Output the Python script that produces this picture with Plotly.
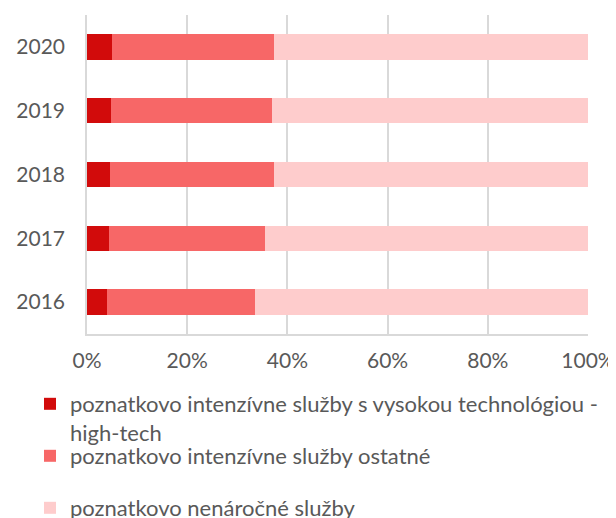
import plotly.graph_objects as go

years = ["2016", "2017", "2018", "2019", "2020"]

# shares in %
high_tech = [4.0, 4.3, 4.6, 4.8, 5.0]
ostatne = [29.6, 31.2, 32.7, 32.2, 32.3]
nenarocne = [66.4, 64.5, 62.7, 63.0, 62.7]

x_ticks = [0, 20, 40, 60, 80, 100]
x_tick_labels = ["0%", "20%", "40%", "60%", "80%", "100%"]

series_names = [
    "poznatkovo intenzívne služby s vysokou technológiou -<br>high-tech",
    "poznatkovo intenzívne služby ostatné",
    "poznatkovo nenáročné služby",
]
series_colors = ["#D20B0B", "#F76767", "#FECCCC"]

font_family = "Lato"
text_color = "#595959"
grid_color = "#D9D9D9"

# the page body has an 8px margin, so the figure is 8px smaller than the window
W, H = 608, 510

# one legend per series so the entries sit like in the original (Excel) layout
legend_ids = ["legend", "legend2", "legend3"]
legend_tops = [375, 427, 479]  # px from top of figure

fig = go.Figure()
for name, vals, col, lg in zip(series_names, [high_tech, ostatne, nenarocne], series_colors, legend_ids):
    fig.add_trace(go.Bar(
        y=years,
        x=vals,
        name=name,
        orientation="h",
        marker=dict(color=col, line=dict(width=0)),
        legend=lg,
    ))

legend_style = {}
for lg, top in zip(legend_ids, legend_tops):
    legend_style[lg] = dict(
        xref="container",
        yref="container",
        x=22 / W,
        xanchor="left",
        y=1 - top / H,
        yanchor="top",
        valign="top",
        font=dict(size=22, color=text_color),
        itemclick=False,
        bgcolor="rgba(0,0,0,0)",
    )

fig.update_layout(
    barmode="stack",
    barnorm="percent",
    bargap=0.6,
    width=W,
    height=H,
    margin=dict(l=79, r=28, t=7, b=184, autoexpand=False),
    paper_bgcolor="white",
    plot_bgcolor="white",
    font=dict(family=font_family, size=21, color=text_color),
    showlegend=True,
    xaxis=dict(
        range=[0, 100],
        tickvals=x_ticks,
        ticktext=x_tick_labels,
        showgrid=True,
        gridcolor=grid_color,
        gridwidth=1.5,
        zeroline=False,
        showline=True,
        linecolor=grid_color,
        linewidth=1.5,
        ticks="",
        ticklabelstandoff=7,
        automargin=False,
        fixedrange=True,
    ),
    yaxis=dict(
        type="category",
        showgrid=False,
        zeroline=False,
        showline=True,
        linecolor=grid_color,
        linewidth=1.5,
        ticks="",
        ticklabelstandoff=16,
        automargin=False,
        fixedrange=True,
    ),
    **legend_style,
)

fig.write_html("out.html")
